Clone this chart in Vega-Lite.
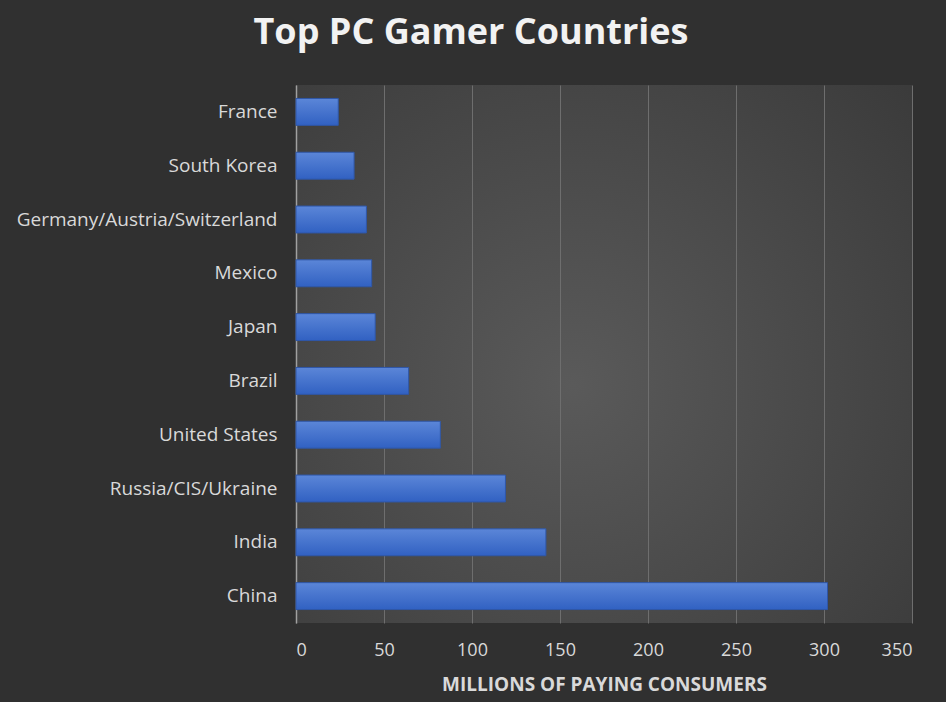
{
  "$schema": "https://vega.github.io/schema/vega-lite/v6.json",
  "width": 616,
  "height": 538,
  "autosize": "none",
  "padding": {"left": 296, "top": 85, "right": 34, "bottom": 79},
  "background": "#303030",
  "title": {
    "text": "Top PC Gamer Countries",
    "font": "Open Sans",
    "fontSize": 36,
    "fontWeight": "bold",
    "color": "#f2f2f2",
    "anchor": "middle",
    "dx": -133,
    "offset": 33
  },
  "config": {
    "view": {
      "stroke": null,
      "fill": {
        "gradient": "radial",
        "x1": 0.45, "y1": 0.55, "r1": 0,
        "x2": 0.45, "y2": 0.55, "r2": 0.75,
        "stops": [
          {"offset": 0, "color": "#5a5a5a"},
          {"offset": 1, "color": "#3a3a3a"}
        ]
      }
    },
    "axis": {
      "labelFont": "Open Sans",
      "titleFont": "Open Sans",
      "labelColor": "#d9d9d9",
      "titleColor": "#d9d9d9"
    }
  },
  "data": {
    "values": [
      {"country": "France", "consumers": 24},
      {"country": "South Korea", "consumers": 33},
      {"country": "Germany/Austria/Switzerland", "consumers": 40},
      {"country": "Mexico", "consumers": 43},
      {"country": "Japan", "consumers": 45},
      {"country": "Brazil", "consumers": 64},
      {"country": "United States", "consumers": 82},
      {"country": "Russia/CIS/Ukraine", "consumers": 119},
      {"country": "India", "consumers": 142},
      {"country": "China", "consumers": 302}
    ]
  },
  "mark": {
    "type": "bar",
    "fill": {
      "gradient": "linear",
      "x1": 0, "y1": 0, "x2": 0, "y2": 1,
      "stops": [
        {"offset": 0, "color": "#5b86d8"},
        {"offset": 1, "color": "#3161c2"}
      ]
    },
    "stroke": "#2f57a8",
    "strokeWidth": 1
  },
  "encoding": {
    "y": {
      "field": "country",
      "type": "nominal",
      "sort": null,
      "scale": {"paddingInner": 0.5, "paddingOuter": 0.25},
      "axis": {
        "title": null,
        "ticks": false,
        "labelPadding": 19,
        "labelFontSize": 19,
        "labelLimit": 400,
        "domain": true,
        "domainColor": "#a0a0a0",
        "domainWidth": 1.5
      }
    },
    "x": {
      "field": "consumers",
      "type": "quantitative",
      "scale": {"domain": [0, 350], "nice": false},
      "axis": {
        "values": [0, 50, 100, 150, 200, 250, 300, 350],
        "title": "MILLIONS OF PAYING CONSUMERS",
        "titleFontSize": 19,
        "titleFontWeight": "bold",
        "titlePadding": 16,
        "labelFontSize": 18,
        "labelPadding": 18,
        "ticks": false,
        "domain": false,
        "grid": true,
        "gridColor": "#6e6e6e",
        "gridWidth": 1
      }
    }
  }
}
